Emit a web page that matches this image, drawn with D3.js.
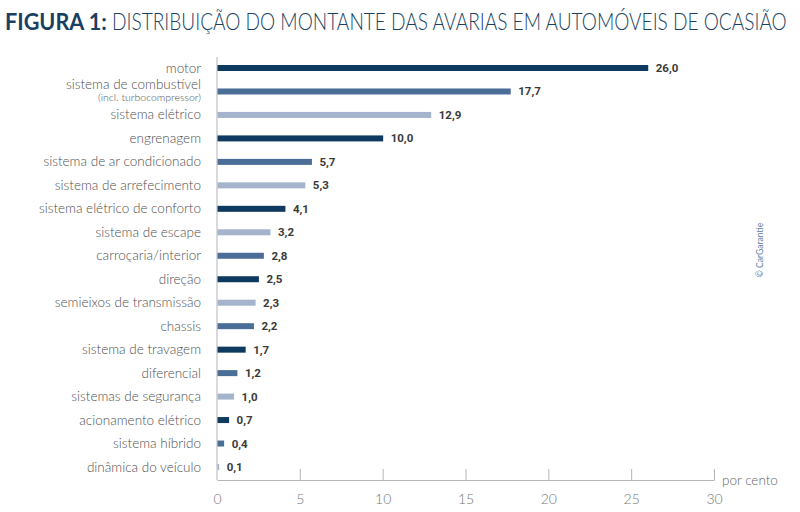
<!DOCTYPE html>
<html><head><meta charset="utf-8">
<script src="https://cdn.jsdelivr.net/npm/d3@7/dist/d3.min.js"></script>
<style>body{margin:0;background:#fff}svg{display:block}</style>
</head><body>
<svg id="c" width="800" height="512"></svg>
<script>
const categories = ["motor","sistema de combustível","sistema elétrico","engrenagem","sistema de ar condicionado","sistema de arrefecimento","sistema elétrico de conforto","sistema de escape","carroçaria/interior","direção","semieixos de transmissão","chassis","sistema de travagem","diferencial","sistemas de segurança","acionamento elétrico","sistema híbrido","dinâmica do veículo"];
const values = [26.0,17.7,12.9,10.0,5.7,5.3,4.1,3.2,2.8,2.5,2.3,2.2,1.7,1.2,1.0,0.7,0.4,0.1];
const valueLabels = ["26,0","17,7","12,9","10,0","5,7","5,3","4,1","3,2","2,8","2,5","2,3","2,2","1,7","1,2","1,0","0,7","0,4","0,1"];
const subLabels = {"sistema de combustível":"(incl. turbocompressor)"};
const tickValues = [0,5,10,15,20,25,30];
const titleBold = "FIGURA 1:";
const titleRest = "DISTRIBUIÇÃO DO MONTANTE DAS AVARIAS EM AUTOMÓVEIS DE OCASIÃO";
const unitLabel = "por cento";
const credit = "© CarGarantie";

const DARK="#0f3a5f", MED="#4a6e97", LIGHT="#a4b4cd";
const barColors=[DARK,MED,LIGHT,DARK,MED,LIGHT,DARK,LIGHT,MED,DARK,LIGHT,MED,DARK,MED,LIGHT,DARK,MED,LIGHT];

const svg=d3.select("#c");
const font="Lato, 'Open Sans', sans-serif";
const x=d3.scaleLinear().domain([0,30]).range([217,714]);
const y=d3.scalePoint().domain(categories).range([68,467]);

// title (horizontally condensed to fit the reference width)
function fitText(txt, x0, width, weight){
  const t=svg.append("text").attr("font-family",font).attr("font-weight",weight)
    .attr("font-size",23).attr("fill","#1a3f63").text(txt);
  const w=t.node().getComputedTextLength();
  t.attr("transform",`translate(${x0},30) scale(${width/w},1)`);
}
fitText(titleBold,5,102,700);
fitText(titleRest,112,675,300);

// axes
svg.append("line").attr("x1",x(0)).attr("x2",x(0)).attr("y1",57).attr("y2",480).attr("stroke","#b5b5b5").attr("stroke-width",1);
const xAxis=d3.axisBottom(x).tickValues(tickValues).tickSize(0).tickPadding(14).tickFormat(d3.format("d"));
const gx=svg.append("g").attr("transform","translate(0,480)").call(xAxis);
gx.select(".domain").attr("stroke","#b5b5b5");
gx.selectAll(".tick text").attr("font-family",font).attr("font-weight",300).attr("font-size",14).attr("fill","#777");
gx.selectAll(".tick").filter(d=>d>0).append("line").attr("y1",0).attr("y2",-11).attr("stroke","#b5b5b5");
svg.append("text").attr("x",722).attr("y",485).attr("font-family",font).attr("font-weight",300).attr("font-size",13.5).attr("fill","#666").text(unitLabel);

// bars
svg.selectAll("rect.bar").data(categories).join("rect").attr("class","bar")
  .attr("x",x(0)+0.5).attr("y",d=>y(d)-3).attr("height",6)
  .attr("width",(d,i)=>Math.max(1.2,x(values[i])-x(0)))
  .attr("fill",(d,i)=>barColors[i]);

svg.selectAll("text.val").data(categories).join("text").attr("class","val")
  .attr("x",(d,i)=>x(values[i])+8).attr("y",d=>y(d)+4)
  .attr("font-family","Roboto, sans-serif").attr("font-weight",700).attr("font-size",11.5).attr("fill","#3a3a3a")
  .text((d,i)=>valueLabels[i]);

// category labels
svg.selectAll("text.cat").data(categories).join("text").attr("class","cat")
  .attr("x",201).attr("y",d=>subLabels[d]?y(d)-2:y(d)+4.5).attr("text-anchor","end")
  .attr("font-family",font).attr("font-weight",300).attr("font-size",13.5).attr("fill","#4f4f4f").text(d=>d);
svg.selectAll("text.sub").data(categories.filter(d=>subLabels[d])).join("text").attr("class","sub")
  .attr("x",201).attr("y",d=>y(d)+10).attr("text-anchor","end")
  .attr("font-family",font).attr("font-weight",300).attr("font-size",10.5).attr("fill","#4f4f4f").text(d=>subLabels[d]);

// credit
svg.append("text").attr("transform","translate(763,250) rotate(-90)").attr("text-anchor","middle")
  .attr("font-family",font).attr("font-size",8.5).attr("fill","#5a80a8").text(credit);
</script>
</body></html>
